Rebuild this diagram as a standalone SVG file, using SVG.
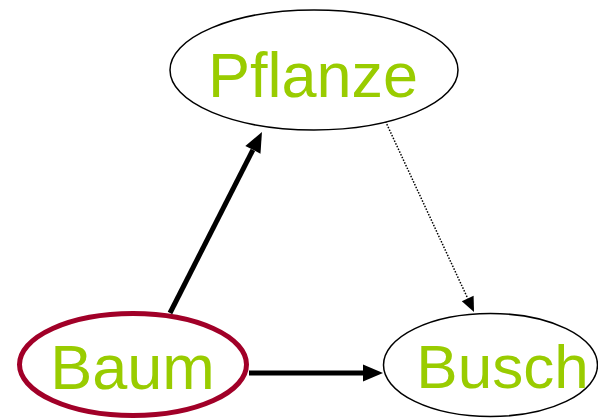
<svg xmlns="http://www.w3.org/2000/svg" width="598" height="419" viewBox="0 0 598 419">
<style>
.lbl{font-family:"Liberation Sans",Arial,sans-serif;fill:#99cc00;text-anchor:middle}
.node{fill:#ffffff;stroke:#000000;stroke-width:1.5}
.sel{fill:#ffffff;stroke:#a10028;stroke-width:5}
.thick{stroke:#000000;stroke-width:5;fill:none}
.dot{stroke:#000000;stroke-width:1.5;stroke-dasharray:1.5 1.5;fill:none}
</style>
<defs>
<marker id="big" markerUnits="userSpaceOnUse" markerWidth="22" markerHeight="18" refX="0" refY="8.5" orient="auto" overflow="visible">
<path d="M0,0 L20,8.5 L0,17 z" fill="#000000"/>
</marker>
<marker id="small" markerUnits="userSpaceOnUse" markerWidth="16" markerHeight="14" refX="0" refY="6.5" orient="auto" overflow="visible">
<path d="M0,0 L15,6.5 L0,13 z" fill="#000000"/>
</marker>
</defs>
<rect width="598" height="419" fill="#ffffff"/>
<g id="connectors">
<line class="thick" x1="249" y1="373" x2="363" y2="373" marker-end="url(#big)"/>
<line class="thick" x1="170" y1="313" x2="252.9" y2="149.8" marker-end="url(#big)"/>
<line class="dot" x1="383" y1="116" x2="467.7" y2="298.4" marker-end="url(#small)"/>
</g>
<g id="node-pflanze">
<ellipse class="node" cx="314" cy="70" rx="144" ry="60"/>
<text class="lbl" x="313" y="97" font-size="63">Pflanze</text>
</g>
<g id="node-baum">
<ellipse class="sel" cx="133" cy="364.5" rx="113.5" ry="51"/>
<text class="lbl" x="132.5" y="389" font-size="63">Baum</text>
</g>
<g id="node-busch">
<ellipse class="node" cx="490.5" cy="365" rx="107" ry="51.5"/>
<text class="lbl" x="502.5" y="388" font-size="62">Busch</text>
</g>
</svg>
